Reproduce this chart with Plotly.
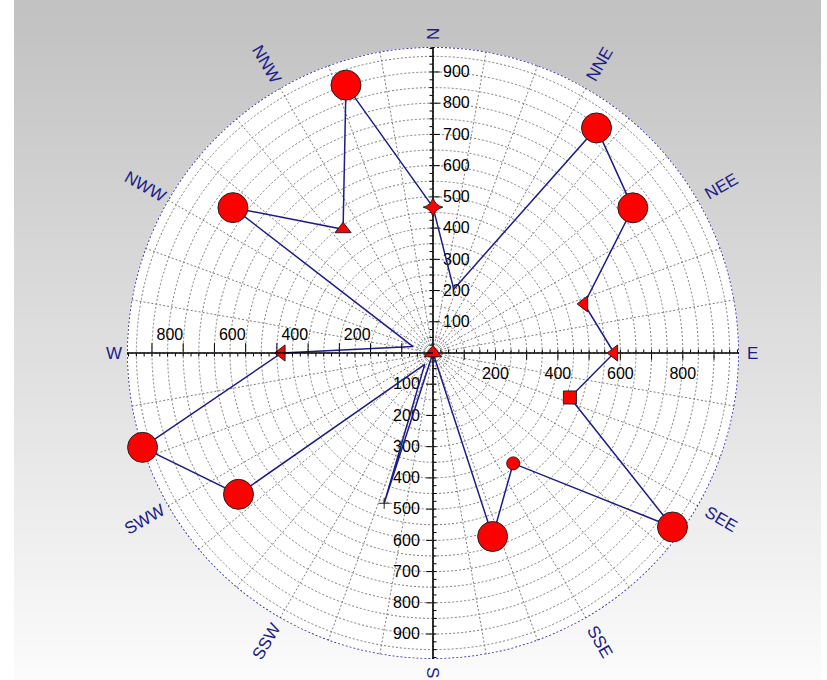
import math
import plotly.graph_objects as go

# ---------------- data ----------------
theta_deg = [0, 18, 36, 54, 72, 90, 108, 126, 144, 162,
             180, 198, 216, 234, 252, 270, 288, 306, 324, 342]
r_vals = [467, 215, 891, 791, 509, 580, 461, 948, 437, 618,
          0, 506, 45, 770, 978, 485, 67, 792, 490, 902]

direction_labels = ["N", "NNE", "NEE", "E", "SEE", "SSE",
                    "S", "SSW", "SWW", "W", "NWW", "NNW"]
direction_angles = [0, 30, 60, 90, 120, 150, 180, 210, 240, 270, 300, 330]

ns_tick_labels = [100, 200, 300, 400, 500, 600, 700, 800, 900]
ew_tick_labels = [200, 400, 600, 800]
major_ticks = [100, 200, 300, 400, 500, 600, 700, 800, 900]
minor_ticks = list(range(25, 980, 25))

# ---------------- styles ----------------
marker_symbols = ["star-diamond", "circle", "circle", "circle", "triangle-left", "triangle-left",
                  "square", "circle", "circle", "circle", "triangle-up", "cross-thin",
                  "circle", "circle", "circle", "triangle-left", "circle", "circle",
                  "triangle-up", "circle"]
marker_sizes = [14, 0, 30, 30, 14, 14, 13, 30, 13, 30,
                15, 8, 0, 30, 30, 14, 0, 30, 14, 30]

W, H = 827, 680
CX, CY, RPX = 433, 353, 306
RMAX = 980
NAVY = "#1c1c8a"
GRID = "#7c7c7c"
FONT = "Liberation Sans, Arial"

dom_x = [(CX - RPX) / W, (CX + RPX) / W]
dom_y = [(H - CY - RPX) / H, (H - CY + RPX) / H]

fig = go.Figure()

# outer dotted border circle (main polar)
border_theta = [i * 0.5 for i in range(721)]
fig.add_trace(go.Scatterpolar(
    r=[RMAX] * len(border_theta), theta=border_theta, mode="lines",
    line=dict(color="#2626a8", width=1.8, dash="2px,2px"),
    hoverinfo="skip", showlegend=False, subplot="polar"))

common_ang = dict(rotation=90, direction="clockwise", showgrid=False, showline=False,
                  showticklabels=False, ticks="")

layout = dict(
    width=W, height=H, margin=dict(l=0, r=0, t=0, b=0),
    paper_bgcolor="white", showlegend=False,
    font=dict(family=FONT, size=16, color="black"),
    polar=dict(
        domain=dict(x=dom_x, y=dom_y), bgcolor="white",
        angularaxis=dict(rotation=90, direction="clockwise", tickmode="linear", dtick=10,
                         showticklabels=False, ticks="", showline=False,
                         showgrid=True, gridcolor=GRID, griddash="2px,2px", gridwidth=1),
        radialaxis=dict(range=[0, RMAX], tickmode="linear", dtick=50, showticklabels=False,
                        ticks="", showline=False, showgrid=True, gridcolor=GRID,
                        griddash="2px,2px", gridwidth=1),
    ),
)

# minor tick polars (opposite side, no labels)
axis_angles = [(90, 90), (0, 0), (270, -90), (180, 180)]
k = 2
for ang, tang in axis_angles:
    name = f"polar{k}"
    layout[name] = dict(
        domain=dict(x=dom_x, y=dom_y), bgcolor="rgba(0,0,0,0)",
        angularaxis=common_ang,
        radialaxis=dict(range=[0, RMAX], angle=ang, side="counterclockwise",
                        tickmode="array", tickvals=minor_ticks, showticklabels=False,
                        ticks="outside", ticklen=3, tickcolor="black", tickwidth=1,
                        showline=False, showgrid=False))
    fig.add_trace(go.Scatterpolar(r=[0], theta=[0], mode="markers",
                                  marker=dict(size=1, opacity=0), hoverinfo="skip",
                                  showlegend=False, subplot=name))
    k += 1

# labelled radial axes
axis_defs = [(90, 90, ns_tick_labels), (0, 0, ew_tick_labels),
             (270, -90, ns_tick_labels), (180, 180, ew_tick_labels)]
for idx, (ang, tang, labs) in enumerate(axis_defs):
    name = f"polar{k}"
    ticktext = [str(v) if v in labs else "" for v in major_ticks]
    layout[name] = dict(
        domain=dict(x=dom_x, y=dom_y), bgcolor="rgba(0,0,0,0)",
        angularaxis=common_ang,
        radialaxis=dict(range=[0, RMAX], angle=ang, side="clockwise",
                        tickmode="array", tickvals=major_ticks, ticktext=ticktext,
                        ticks="outside", ticklen=6 if ang != 180 else 9,
                        tickcolor="black", tickwidth=1,
                        showline=True, linecolor="black", linewidth=1.6,
                        showgrid=False, tickangle=tang,
                        tickfont=dict(family=FONT, size=16, color="black")),
    )
    last = name
    if idx < 3:
        fig.add_trace(go.Scatterpolar(r=[0], theta=[0], mode="markers",
                                      marker=dict(size=1, opacity=0), hoverinfo="skip",
                                      showlegend=False, subplot=name))
    k += 1

# data on the top-most polar layer
fig.add_trace(go.Scatterpolar(
    r=r_vals + r_vals[:1], theta=theta_deg + theta_deg[:1],
    mode="lines", line=dict(color=NAVY, width=1.5),
    hoverinfo="skip", showlegend=False, subplot=last))
fig.add_trace(go.Scatterpolar(
    r=r_vals, theta=theta_deg, mode="markers",
    marker=dict(symbol=marker_symbols, size=marker_sizes, color="#ff0000", opacity=1,
                line=dict(color="#222222", width=1)),
    showlegend=False, subplot=last))

# gradient background bands
shapes = []
nb = 60
for i in range(nb):
    t = i / (nb - 1)
    c = int(194 + (251 - 194) * t)
    shapes.append(dict(type="rect", xref="paper", yref="paper",
                       x0=14 / W, x1=821 / W,
                       y0=max(0, 1 - (i + 1) / nb - 0.004), y1=1 - i / nb,
                       fillcolor=f"rgb({c},{c},{c})", line=dict(width=0), layer="below"))
layout["shapes"] = shapes

# compass direction labels
annotations = []
for lab, ang in zip(direction_labels, direction_angles):
    d = RPX + 6 + 7 * len(lab)
    a = math.radians(ang)
    px = CX + d * math.sin(a)
    py = CY - d * math.cos(a)
    ta = -(90 - ang)
    while ta <= -90:
        ta += 180
    while ta > 90:
        ta -= 180
    if ang == 0:
        ta = -90
    annotations.append(dict(x=px / W, y=1 - py / H, xref="paper", yref="paper",
                            xanchor="center", yanchor="middle",
                            text=lab, showarrow=False, textangle=ta,
                            font=dict(family=FONT, size=17, color=NAVY)))
layout["annotations"] = annotations

fig.update_layout(**layout)
fig.write_html("out.html", config={"displayModeBar": False},
               post_script="document.body.style.margin='0px';")
